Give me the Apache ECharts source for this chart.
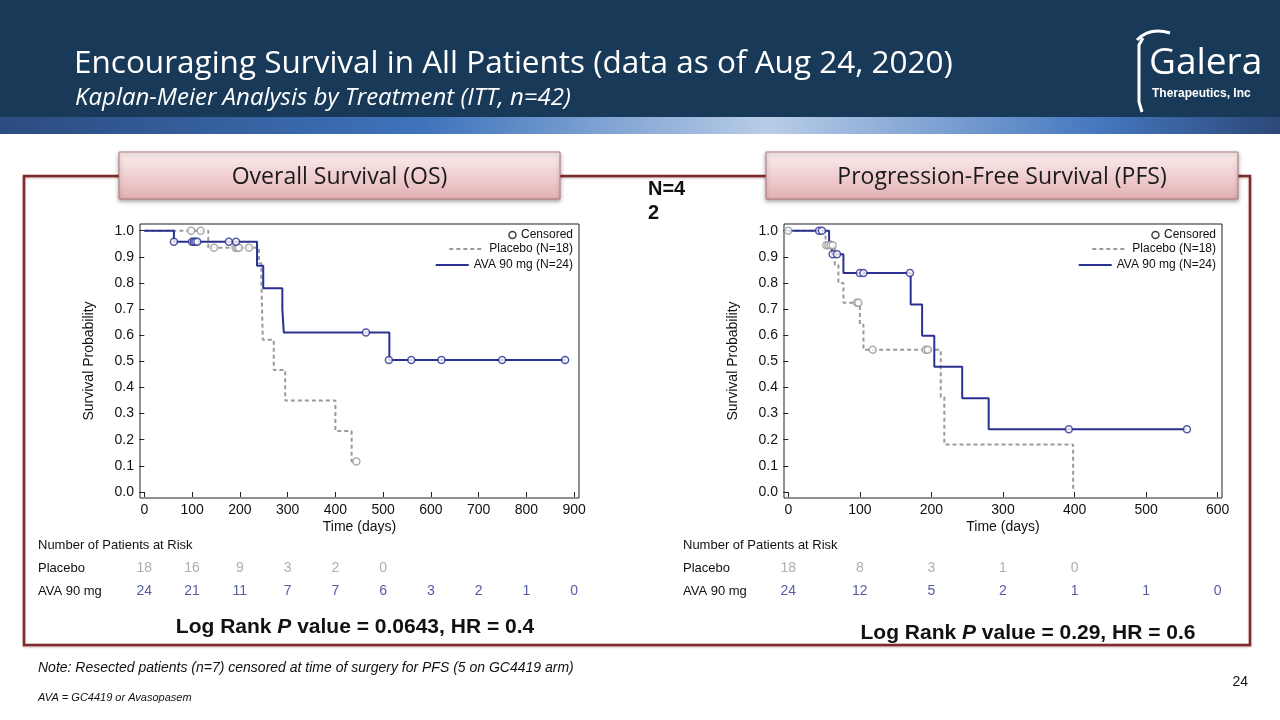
<!DOCTYPE html>
<html><head><meta charset="utf-8">
<script src="https://cdn.jsdelivr.net/npm/echarts@6/dist/echarts.min.js"></script>
<style>html,body{margin:0;padding:0;background:#fff}#c{width:1280px;height:720px}</style>
</head><body><div id="c"></div>
<script>
// ---------- data ----------
const osTimeTicks = [0, 100, 200, 300, 400, 500, 600, 700, 800, 900];
const pfsTimeTicks = [0, 100, 200, 300, 400, 500, 600];
const probTicks = [0, 0.1, 0.2, 0.3, 0.4, 0.5, 0.6, 0.7, 0.8, 0.9, 1.0];

const osAvaSteps = [[0,1],[62,0.958],[236,0.866],[249,0.78],[289,0.70],[292,0.61],[513,0.505],[881,0.505]];
const osPlaceboSteps = [[0,1],[134,0.935],[240,0.875],[245,0.817],[248,0.583],[271,0.467],[295,0.35],[400,0.233],[434,0.117],[444,0.117]];
const osAvaCensored = [[62,0.958],[100,0.958],[104,0.958],[107,0.958],[111,0.958],[177,0.958],[192,0.958],[464,0.61],[512,0.505],[559,0.505],[622,0.505],[749,0.505],[881,0.505]];
const osPlaceboCensored = [[98,1],[118,1],[146,0.935],[191,0.935],[195,0.935],[198,0.935],[219,0.935],[444,0.117]];

const pfsAvaSteps = [[0,1],[57,0.958],[61,0.91],[77,0.838],[171,0.718],[187,0.598],[204,0.479],[243,0.359],[280,0.24],[557,0.24]];
const pfsPlaceboSteps = [[0,1],[52,0.944],[65,0.87],[70,0.80],[77,0.724],[100,0.64],[105,0.544],[213,0.363],[218,0.182],[398,0]];
const pfsAvaCensored = [[43,1],[47,1],[62,0.91],[68,0.91],[100,0.838],[105,0.838],[170,0.838],[392,0.24],[557,0.24]];
const pfsPlaceboCensored = [[0,1],[53,0.944],[56,0.944],[59,0.944],[62,0.944],[96,0.724],[98,0.724],[118,0.544],[192,0.544],[195,0.544]];

const riskRows = ['Placebo', 'AVA 90 mg'];
const osRiskPlacebo = [18, 16, 9, 3, 2, 0];
const osRiskAva = [24, 21, 11, 7, 7, 6, 3, 2, 1, 0];
const pfsRiskPlacebo = [18, 8, 3, 1, 0];
const pfsRiskAva = [24, 12, 5, 2, 1, 1, 0];

const nameCensored = 'Censored';
const namePlacebo = 'Placebo (N=18)';
const nameAva = 'AVA 90 mg (N=24)';

// ---------- styles ----------
const NAVY = '#2b3190';
const GRAY = '#9a9a9a';
const AX = 'Liberation Sans, Arial, sans-serif';
const SEG = '"Open Sans", "Noto Sans", sans-serif';

const chart = echarts.init(document.getElementById('c'), null, {renderer: 'canvas'});

function plotAxes(gridIndex, ticks, xmin, xmax) {
  const x = {
    type: 'value', gridIndex, min: xmin, max: xmax,
    name: 'Time (days)', nameLocation: 'middle', nameGap: 22,
    nameTextStyle: {fontFamily: AX, fontSize: 14, color: '#111'},
    axisLine: {show: false}, splitLine: {show: false},
    axisTick: {show: true, customValues: ticks, length: 5, lineStyle: {color: '#222'}},
    axisLabel: {customValues: ticks, margin: 5, fontFamily: AX, fontSize: 14, color: '#111'}
  };
  const y = {
    type: 'value', gridIndex, min: -0.023, max: 1.0256,
    name: 'Survival Probability', nameLocation: 'middle', nameGap: 44,
    nameTextStyle: {fontFamily: AX, fontSize: 14, color: '#111'},
    axisLine: {show: false}, splitLine: {show: false},
    axisTick: {show: true, customValues: probTicks, length: 5, lineStyle: {color: '#222'}},
    axisLabel: {customValues: probTicks, margin: 6, fontFamily: AX, fontSize: 14, color: '#111',
      formatter: v => Number(v).toFixed(1)}
  };
  return [x, y];
}
function riskAxes(gridIndex, xmin, xmax, margin) {
  return [
    {type: 'value', gridIndex, min: xmin, max: xmax, show: false},
    {type: 'category', gridIndex, data: riskRows, inverse: true,
      axisLine: {show: false}, axisTick: {show: false}, splitLine: {show: false},
      axisLabel: {align: 'left', margin, fontFamily: AX, fontSize: 13, color: '#111'}}
  ];
}
const [osX, osY] = plotAxes(0, osTimeTicks, -9, 910);
const [pfsX, pfsY] = plotAxes(1, pfsTimeTicks, -6, 606);
const [osRX, osRY] = riskAxes(2, -9, 910, 102);
const [pfsRX, pfsRY] = riskAxes(3, -6, 606, 101);

function stepLine(name, data, xi, color, dashed) {
  return {type: 'line', name, xAxisIndex: xi, yAxisIndex: xi, data, step: 'end',
    symbol: 'none', silent: true, z: dashed ? 3 : 4,
    lineStyle: {color, width: 2, type: dashed ? [4, 3] : 'solid'}, itemStyle: {color}};
}
function cens(data, xi, color) {
  return {type: 'scatter', name: 'cens' + xi + color, xAxisIndex: xi, yAxisIndex: xi, data,
    symbol: 'circle', symbolSize: 7, silent: true, z: 6,
    itemStyle: {color: '#fff', borderColor: color, borderWidth: 1.5}};
}
function riskSeries(ticks, vals, row, xi, color) {
  return {type: 'scatter', xAxisIndex: xi, yAxisIndex: xi, silent: true,
    data: vals.map((v, i) => [ticks[i], row, v]),
    symbolSize: 1, itemStyle: {color: 'transparent'},
    label: {show: true, position: 'inside', formatter: p => String(p.value[2]),
      fontFamily: AX, fontSize: 14, color}};
}
const noSym = {color: 'rgba(0,0,0,0)', borderColor: 'rgba(0,0,0,0)', borderWidth: 0};
function legends(right) {
  const base = {orient: 'horizontal', right, padding: 0, selectedMode: false,
    textStyle: {fontFamily: AX, fontSize: 12, color: '#111'}};
  return [
    Object.assign({}, base, {top: 229, itemWidth: 7, itemHeight: 7,
      data: [{name: nameCensored, icon: 'circle', itemStyle: {color: '#fff', borderColor: '#111', borderWidth: 1.5}}]}),
    Object.assign({}, base, {top: 243, itemWidth: 35, itemHeight: 10, data: [{name: namePlacebo, itemStyle: noSym}]}),
    Object.assign({}, base, {top: 259, itemWidth: 33, itemHeight: 10, data: [{name: nameAva, itemStyle: noSym}]})
  ];
}

const hdr = {type: 'rect', shape: {x: 0, y: 0, width: 1280, height: 117}, style: {fill: '#183957'}, z: 1};
const bar = {type: 'rect', shape: {x: 0, y: 117, width: 1280, height: 17}, z: 1,
  style: {fill: new echarts.graphic.LinearGradient(0, 0, 1, 0, [
    {offset: 0, color: '#2c4c80'}, {offset: 0.33, color: '#3e73bb'},
    {offset: 0.6, color: '#b9cde7'}, {offset: 0.86, color: '#4477be'}, {offset: 1, color: '#2c4878'}])}};
function pill(x, w, text) {
  return [
    {type: 'rect', shape: {x, y: 152, width: w, height: 47}, z: 5,
      style: {fill: new echarts.graphic.LinearGradient(0, 0, 0, 1, [
        {offset: 0, color: '#fcefef'}, {offset: 1, color: '#e3b0b3'}]),
        stroke: '#b4787b', lineWidth: 1, shadowBlur: 4, shadowOffsetY: 2, shadowColor: 'rgba(0,0,0,0.35)'}},
    {type: 'text', z: 6, style: {text, x: x + w / 2, y: 177, textAlign: 'center', textVerticalAlign: 'middle',
      verticalAlign: 'middle', font: '23px ' + SEG, fill: '#1a1a1a'}}
  ];
}
function txt(text, x, y, font, fill, align) {
  return {type: 'text', z: 6, style: {text, x, y, font, fill: fill || '#111', textAlign: align || 'left',
    textVerticalAlign: 'middle', verticalAlign: 'middle'}};
}
function logRank(x, y, pval, hr) {
  return {type: 'text', z: 6, style: {
    text: '{a|Log Rank }{b|P}{a| value = ' + pval + ', HR = ' + hr + '}',
    x, y, textAlign: 'center', textVerticalAlign: 'middle', verticalAlign: 'middle',
    rich: {a: {fontFamily: AX, fontSize: 21, fontWeight: 'bold', fill: '#111', color: '#111'},
      b: {fontFamily: AX, fontSize: 21, fontWeight: 'bold', fontStyle: 'italic', fill: '#111', color: '#111'}}}};
}

const graphics = [
  hdr, bar,
  txt('Encouraging Survival in All Patients (data as of Aug 24, 2020)', 74, 64, '31.5px ' + SEG, '#ffffff'),
  txt('Kaplan-Meier Analysis by Treatment (ITT, n=42)', 75, 98, 'italic 24px ' + SEG, '#ffffff'),
  // logo
  {type: 'polyline', z: 6, shape: {points: [[1143, 38], [1139, 45], [1139, 102], [1142, 112]]},
    style: {stroke: '#fff', lineWidth: 3, fill: null}},
  {type: 'bezierCurve', z: 6, shape: {x1: 1137, y1: 40, x2: 1170, y2: 33, cpx1: 1150, cpy1: 27},
    style: {stroke: '#fff', lineWidth: 3, fill: null}},
  txt('Galera', 1149, 63, '37px ' + SEG, '#ffffff'),
  txt('Therapeutics, Inc', 1152, 94, 'bold 12px ' + AX, '#ffffff'),
  // maroon frame
  {type: 'rect', z: 2, shape: {x: 24, y: 176, width: 1226, height: 469},
    style: {fill: null, stroke: '#7d2a2d', lineWidth: 2.5, shadowBlur: 2, shadowOffsetY: 1, shadowColor: 'rgba(120,40,40,0.4)'}},
  ...pill(119, 441, 'Overall Survival (OS)'),
  ...pill(766, 472, 'Progression-Free Survival (PFS)'),
  {type: 'text', z: 6, style: {text: 'N=4\n2', x: 648, y: 177, font: 'bold 20px ' + AX, fill: '#111', lineHeight: 24}},
  txt('Number of Patients at Risk', 38, 545, '13px ' + AX),
  txt('Number of Patients at Risk', 683, 545, '13px ' + AX),
  logRank(355, 627, '0.0643', '0.4'),
  logRank(1028, 633, '0.29', '0.6'),
  txt('Note: Resected patients (n=7) censored at time of surgery for PFS (5 on GC4419 arm)', 38, 668, 'italic 14px ' + AX),
  txt('AVA = GC4419 or Avasopasem', 38, 698, 'italic 11px ' + AX),
  txt('24', 1248, 682, '14px ' + AX, '#111', 'right')
];

chart.setOption({
  animation: false,
  backgroundColor: '#ffffff',
  graphic: graphics,
  grid: [
    {left: 140, top: 224, width: 439, height: 274, show: true, borderColor: '#222', borderWidth: 1, backgroundColor: 'rgba(0,0,0,0)', z: 3},
    {left: 784, top: 224, width: 438, height: 274, show: true, borderColor: '#222', borderWidth: 1, backgroundColor: 'rgba(0,0,0,0)', z: 3},
    {left: 140, top: 557, width: 439, height: 46},
    {left: 784, top: 557, width: 438, height: 46}
  ],
  xAxis: [osX, pfsX, osRX, pfsRX],
  yAxis: [osY, pfsY, osRY, pfsRY],
  legend: [...legends(707), ...legends(64)],
  series: [
    {type: 'scatter', name: nameCensored, xAxisIndex: 0, yAxisIndex: 0, data: [], symbol: 'circle',
      itemStyle: {color: '#fff', borderColor: '#111', borderWidth: 1.5}},
    stepLine(namePlacebo, osPlaceboSteps, 0, GRAY, true),
    stepLine(nameAva, osAvaSteps, 0, NAVY, false),
    cens(osPlaceboCensored, 0, GRAY),
    cens(osAvaCensored, 0, NAVY),
    stepLine(namePlacebo, pfsPlaceboSteps, 1, GRAY, true),
    stepLine(nameAva, pfsAvaSteps, 1, NAVY, false),
    cens(pfsPlaceboCensored, 1, GRAY),
    cens(pfsAvaCensored, 1, NAVY),
    riskSeries(osTimeTicks, osRiskPlacebo, riskRows[0], 2, GRAY),
    riskSeries(osTimeTicks, osRiskAva, riskRows[1], 2, NAVY),
    riskSeries(pfsTimeTicks, pfsRiskPlacebo, riskRows[0], 3, GRAY),
    riskSeries(pfsTimeTicks, pfsRiskAva, riskRows[1], 3, NAVY)
  ]
});
</script></body></html>
